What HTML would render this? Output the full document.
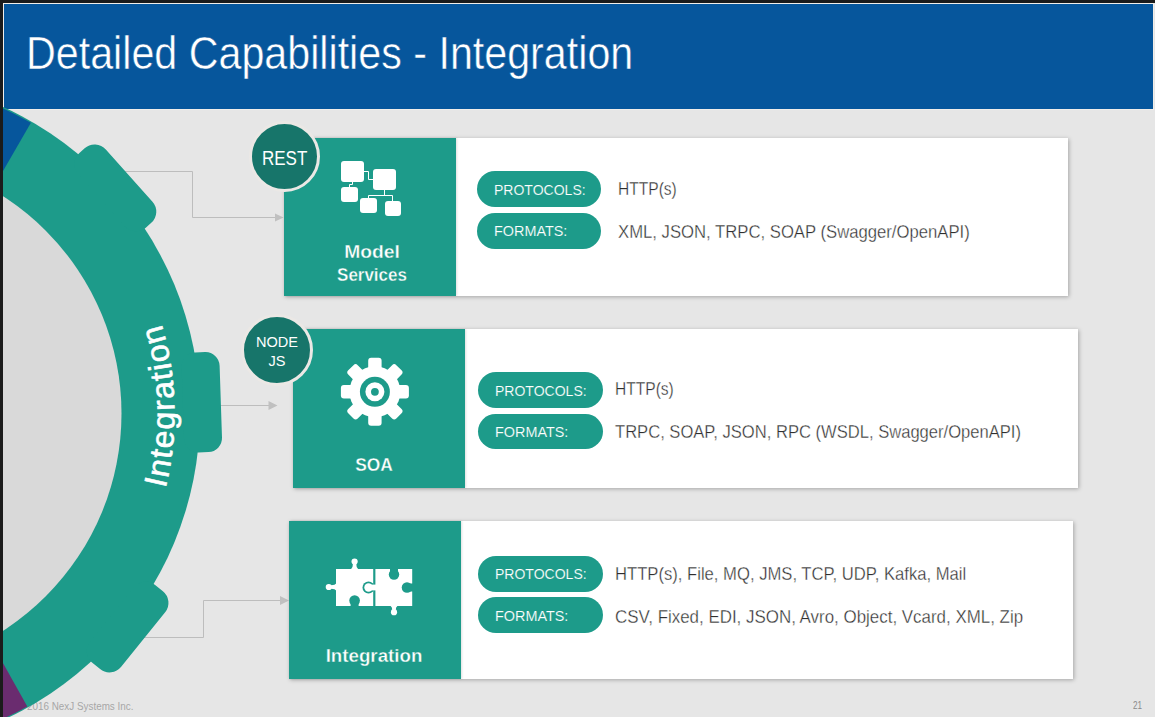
<!DOCTYPE html>
<html><head><meta charset="utf-8">
<style>
html,body{margin:0;padding:0;}
body{width:1155px;height:717px;overflow:hidden;position:relative;background:#e6e6e6;font-family:"Liberation Sans",sans-serif;}
.abs{position:absolute;}
#bt{left:0;top:0;width:1155px;height:3px;background:#1b1b1b;}
#bl{left:0;top:0;width:3px;height:717px;background:#1b1b1b;}
#hdr{left:3px;top:3px;width:1149px;height:105px;background:#06569c;border:1px solid #f1eeea;}
#title{left:25.5px;top:23.6px;font-size:45.5px;color:#fff;-webkit-text-stroke:0.5px #06569c;white-space:nowrap;line-height:60px;transform-origin:0 0;transform:scaleX(0.906);}
.card{position:absolute;background:#fff;box-shadow:1px 1px 4px rgba(0,0,0,0.28);}
.teal{position:absolute;left:0;top:0;width:172px;height:100%;background:#1d9b8a;box-shadow:1px 0 2px rgba(0,0,0,0.12);}
.pill{position:absolute;background:#1d9b8a;border-radius:18px;width:124px;height:36px;}
.pt{position:absolute;color:#fff;-webkit-text-stroke:0.15px #1d9b8a;font-size:15.5px;white-space:nowrap;line-height:20px;transform-origin:0 0;}
.vt{position:absolute;color:#2e2e2e;-webkit-text-stroke:0.33px #fff;font-size:18px;white-space:nowrap;line-height:22px;transform-origin:0 0;}
.lbl{position:absolute;color:#fff;-webkit-text-stroke:0.35px #1d9b8a;font-size:18px;font-weight:bold;text-align:center;line-height:23px;white-space:nowrap;}
.badge{position:absolute;border-radius:50%;background:#17756a;border:3px solid #ebe8e5;color:#fff;text-align:center;}
#foot{left:17px;top:699px;font-size:10.5px;color:#a6a6a6;white-space:nowrap;line-height:14px;transform-origin:0 0;transform:scaleX(0.94);}
#num{left:1132.5px;top:698px;font-size:11px;color:#8a8a8a;line-height:14px;transform-origin:0 0;transform:scaleX(0.74);}
</style></head>
<body>
<div id="foot" class="abs">© 2016 NexJ Systems Inc.</div>
<div id="num" class="abs">21</div>

<!-- connectors -->
<svg class="abs" style="left:0;top:0" width="1155" height="717">
  <g stroke="#bdbdbd" stroke-width="1" fill="none">
    <path d="M120 171.5 H192.5 V217.5 H276"/>
    <path d="M215 405.5 H270"/>
    <path d="M140 637.5 H203.5 V600.5 H281"/>
  </g>
  <g fill="#c0c0c0">
    <path d="M275 213.5 L283.5 217.5 L275 221.5 Z"/>
    <path d="M268.5 401 L277.5 405.5 L268.5 410 Z"/>
    <path d="M280 596 L289 600.5 L280 605 Z"/>
  </g>
</svg>



<div id="hdr" class="abs"></div>
<div id="title" class="abs">Detailed Capabilities - Integration</div>
<!-- ring -->
<svg id="ring" class="abs" style="left:0;top:0" width="1155" height="717">
  <g transform="translate(-137,413.5)">
    <circle r="337" fill="#1d9b8a"/>
    <rect x="320" y="-50" width="37" height="100" rx="15" fill="#1d9b8a" transform="rotate(-41.8)"/>
    <rect x="320" y="-50" width="38" height="100" rx="14" fill="#1d9b8a" transform="rotate(-1.9)"/>
    <rect x="320" y="-50" width="40" height="100" rx="15" fill="#1d9b8a" transform="rotate(38.9)"/>
    <path d="M0 0 L-58.3 -330.7 A335.8 335.8 0 0 1 167.9 -290.8 Z" fill="#06569c"/>
    <path d="M0 0 L164.3 292.9 A335.8 335.8 0 0 1 -58.3 330.7 Z" fill="#6a2c6f"/>
    <circle r="258.5" fill="#d9d9d9"/>
    <g transform="rotate(-1.5)">
    <path id="arc" d="M220.3 220.3 A311.5 311.5 0 0 0 220.3 -220.3" fill="none"/>
    <text id="rtext" font-family="Liberation Sans" font-size="32" letter-spacing="1.5" fill="#fff" stroke="#fff" stroke-width="0.6" text-anchor="middle"><textPath href="#arc" startOffset="50%">Integration</textPath></text>
    </g>
  </g>
</svg>
<div id="bt" class="abs"></div>
<div id="bl" class="abs"></div>



<!-- card 1 -->
<div class="card" style="left:284px;top:138px;width:784px;height:158px;">
  <div class="teal"></div>
</div>
<div id="l1a" class="lbl" style="left:300px;top:241px;width:144px;transform:scaleX(1.07)">Model</div><div id="l1b" class="lbl" style="left:300px;top:264px;width:144px;transform:scaleX(0.943)">Services</div>
<div class="pill" style="left:477px;top:171px;"></div>
<div class="pill" style="left:477px;top:213px;"></div>
<div id="p1" class="pt" style="left:494px;top:180.4px;transform:scaleX(0.904)">PROTOCOLS:</div>
<div id="f1" class="pt" style="left:494px;top:221.4px;transform:scaleX(0.929)">FORMATS:</div>
<div id="v1" class="vt" style="left:618px;top:178px;transform:scaleX(0.865)">HTTP(s)</div>
<div id="w1" class="vt" style="left:618px;top:221px;transform:scaleX(0.927)">XML, JSON, TRPC, SOAP (Swagger/OpenAPI)</div>
<div id="b1" class="badge" style="left:249px;top:121px;width:65px;height:65px;font-size:20px;line-height:65px;"><span id="b1t" style="display:inline-block;transform:scaleX(0.85);position:relative;top:2px">REST</span></div>

<!-- card 2 -->
<div class="card" style="left:293px;top:329px;width:785px;height:159px;">
  <div class="teal"></div>
</div>
<div id="l2" class="lbl" style="left:302px;top:454px;width:144px;transform:scaleX(0.965)">SOA</div>
<div class="pill" style="left:478px;top:372px;width:125px;height:35.5px;"></div>
<div class="pill" style="left:478px;top:414px;width:125px;height:35px;"></div>
<div id="p2" class="pt" style="left:495px;top:380.9px;transform:scaleX(0.904)">PROTOCOLS:</div>
<div id="f2" class="pt" style="left:495px;top:422.4px;transform:scaleX(0.929)">FORMATS:</div>
<div id="v2" class="vt" style="left:615px;top:378px;transform:scaleX(0.865)">HTTP(s)</div>
<div id="w2" class="vt" style="left:615px;top:421px;transform:scaleX(0.921)">TRPC, SOAP, JSON, RPC (WSDL, Swagger/OpenAPI)</div>
<div id="b2" class="badge" style="left:241px;top:314px;width:66px;height:66px;font-size:15px;line-height:18.5px;"><div id="b2t" style="padding-top:16px;transform:scaleX(0.97)">NODE<br>JS</div></div>

<!-- card 3 -->
<div class="card" style="left:289px;top:521px;width:784px;height:158px;">
  <div class="teal"></div>
</div>
<div id="l3" class="lbl" style="left:302px;top:645px;width:144px;transform:scaleX(1.04)">Integration</div>
<div class="pill" style="left:478px;top:556px;width:125px;height:35.7px;"></div>
<div class="pill" style="left:478px;top:597px;width:125px;height:35.8px;"></div>
<div id="p3" class="pt" style="left:495px;top:564.4px;transform:scaleX(0.904)">PROTOCOLS:</div>
<div id="f3" class="pt" style="left:495px;top:606.4px;transform:scaleX(0.929)">FORMATS:</div>
<div id="v3" class="vt" style="left:615px;top:563px;transform:scaleX(0.924)">HTTP(s), File, MQ, JMS, TCP, UDP, Kafka, Mail</div>
<div id="w3" class="vt" style="left:615px;top:606px;transform:scaleX(0.940)">CSV, Fixed, EDI, JSON, Avro, Object, Vcard, XML, Zip</div>

<!-- icons -->
<svg id="icons" class="abs" style="left:0;top:0" width="1155" height="717">
  <g id="ic1">
  <g fill="#fff">
    <rect x="341" y="161" width="23" height="21" rx="3"/>
    <rect x="373" y="169" width="23" height="21" rx="3"/>
    <rect x="341" y="187" width="17" height="15" rx="3"/>
    <rect x="360" y="198" width="17" height="15" rx="3"/>
    <rect x="385" y="201" width="16" height="15" rx="3"/>
  </g>
  <g stroke="#fff" stroke-width="1" fill="none">
    <path d="M364 171.5 H368.5 V179.5 H373"/>
    <path d="M352.5 182 V184.5 H349.5 V187"/>
    <path d="M384.5 190 V195.5"/>
    <path d="M368.5 198 V195.5 H392.5 V201"/>
  </g>
  </g>
  <g id="ic2" transform="translate(374.9,391.8)">
    <circle r="25.5" fill="#fff"/>
    <g fill="#fff">
      <rect x="-6.7" y="-34" width="13.4" height="16" rx="3"/>
      <rect x="-6.7" y="-34" width="13.4" height="16" rx="3" transform="rotate(45)"/>
      <rect x="-6.7" y="-34" width="13.4" height="16" rx="3" transform="rotate(90)"/>
      <rect x="-6.7" y="-34" width="13.4" height="16" rx="3" transform="rotate(135)"/>
      <rect x="-6.7" y="-34" width="13.4" height="16" rx="3" transform="rotate(180)"/>
      <rect x="-6.7" y="-34" width="13.4" height="16" rx="3" transform="rotate(225)"/>
      <rect x="-6.7" y="-34" width="13.4" height="16" rx="3" transform="rotate(270)"/>
      <rect x="-6.7" y="-34" width="13.4" height="16" rx="3" transform="rotate(315)"/>
    </g>
    <circle r="15" fill="#1d9b8a"/>
    <circle r="9.5" fill="#fff"/>
    <circle r="3.9" fill="#1d9b8a"/>
  </g>
  <g id="ic3">
    <rect x="336" y="569" width="37.2" height="37" fill="#fff"/>
    <rect x="375.4" y="569" width="36.8" height="37" fill="#fff"/>
    <g fill="#1d9b8a">
      <circle cx="354.6" cy="600.5" r="5.3"/>
      <rect x="350.6" y="601" width="8" height="6"/>
      <circle cx="394" cy="574.5" r="5.2"/>
      <rect x="390" y="568" width="8" height="6"/>
      <circle cx="407" cy="587.5" r="5.3"/>
      <rect x="407" y="583.5" width="6" height="8"/>
    </g>
    <g fill="#fff">
      <circle cx="354.6" cy="561.6" r="3.1"/>
      <path d="M350.8 569.5 Q353 568 352.9 564 L356.3 564 Q356.2 568 358.4 569.5 Z"/>
      <circle cx="328.8" cy="587" r="3.1"/>
      <path d="M336.5 583.2 Q335 585.4 331 585.3 L331 588.7 Q335 588.6 336.5 590.8 Z"/>
      <circle cx="394" cy="612.2" r="3.1"/>
      <path d="M390.2 605.5 Q392.4 607 392.3 610 L395.7 610 Q395.6 607 397.8 605.5 Z"/>
    </g>
    <circle cx="368.5" cy="587.5" r="6" fill="#1d9b8a"/>
    <circle cx="368.5" cy="587.5" r="4.2" fill="#fff"/>
    <rect x="368.5" y="584.6" width="8" height="5.8" fill="#fff"/>
  </g>
</svg>
</body></html>
